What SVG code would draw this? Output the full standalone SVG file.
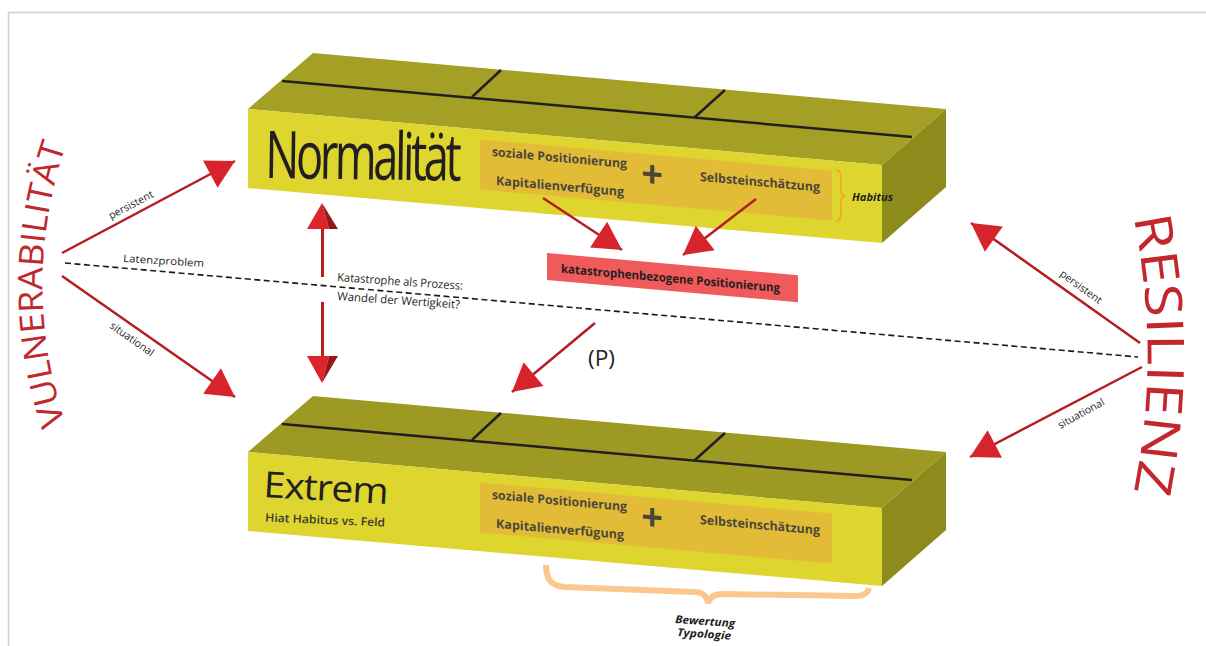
<svg xmlns="http://www.w3.org/2000/svg" width="1206" height="646" viewBox="0 0 1206 646">
<defs>
<style>
text{font-family:"Open Sans","Liberation Sans",sans-serif;}
.top1{fill:#a4a026}
.top2{fill:#9c9a22}
.front{fill:#ded52e}
.side{fill:#8d8b1c}
.seam{stroke:#231f20;stroke-width:2.5;fill:none}
.inner{fill:#e3bc37}
.it{font-size:12.5px;font-weight:700;fill:#4b473a}
.plus{font-size:38px;font-weight:700;fill:#4b473a}
.arr{stroke:#b51d23;stroke-width:2.5;fill:none;marker-end:url(#ah)}
.lbl{font-size:10.5px;fill:#231f20}
.note{font-size:11.5px;fill:#231f20}
.red{fill:#c1272d}
.bi{font-size:11px;font-weight:700;font-style:italic;fill:#231f20}
</style>
<marker id="ah" markerUnits="userSpaceOnUse" viewBox="-30 -17 32 34" markerWidth="32" markerHeight="34" refX="0" refY="0" orient="auto">
<path d="M-28,-15.5 L0,0 L-28,15.5 z" fill="#d7232b"/>
</marker>
<path id="vp" d="M67,428 Q18,285 67,142"/>
<path id="rp" d="M1133,214 Q1162,355 1133,496"/>
</defs>
<rect width="1206" height="646" fill="#ffffff"/>
<path d="M8.5,646 V12.5 H1206" stroke="#d0d0d0" stroke-width="1.5" fill="none"/>

<g id="node-normalitaet">
<polygon class="top1" points="313,53 946,109 882,165 248,109"/>
<polygon class="side" points="882,165 946,109 946,187 882,243"/>
<polygon class="front" points="248,109 882,165 882,243 248,188"/>
<path class="seam" d="M282,81 L912,137 M501,70 L472,97 M725,90 L695,117"/>
<text x="265" y="178" font-size="66" fill="#231f20" letter-spacing="-5" textLength="193" lengthAdjust="spacingAndGlyphs" transform="rotate(0.8 265 178)">Normalität</text>
<g transform="matrix(1 0.0883 0 1 248 109)">
<rect class="inner" x="232" y="10" width="352" height="50"/>
<text class="it" x="244" y="25.5" textLength="135" lengthAdjust="spacingAndGlyphs">soziale Positionierung</text>
<text class="it" x="248" y="54" textLength="128" lengthAdjust="spacingAndGlyphs">Kapitalienverfügung</text>
<text class="plus" x="404" y="43" text-anchor="middle">+</text>
<text class="it" x="452" y="32" textLength="120" lengthAdjust="spacingAndGlyphs">Selbsteinschätzung</text>
</g>
<path d="M836,170 Q841,170 841,178 L841,190 Q841,195 845,196 Q841,197 841,202 L841,213 Q841,221 836,221" stroke="#f7a12a" stroke-width="1.6" fill="none"/>
<text class="bi" x="852" y="200.5" textLength="41" lengthAdjust="spacingAndGlyphs">Habitus</text>
</g>

<g id="node-extrem">
<polygon class="top2" points="313,396 946,452 882,508 248,452"/>
<polygon class="side" points="882,508 946,452 946,530 882,586"/>
<polygon class="front" points="248,452 882,508 882,586 248,531"/>
<path class="seam" d="M282,424 L912,480 M501,413 L472,440 M725,433 L695,460"/>
<text x="263" y="497" font-size="36" fill="#231f20" letter-spacing="-1" textLength="124" lengthAdjust="spacingAndGlyphs" transform="rotate(3.2 263 497)">Extrem</text>
<text x="265" y="521.5" font-size="11.5" font-weight="600" fill="#3a3835" textLength="120" lengthAdjust="spacingAndGlyphs" transform="rotate(2.4 265 521.5)">Hiat Habitus vs. Feld</text>
<g transform="matrix(1 0.0883 0 1 248 452)">
<rect class="inner" x="232" y="10" width="352" height="50"/>
<text class="it" x="244" y="25.5" textLength="135" lengthAdjust="spacingAndGlyphs">soziale Positionierung</text>
<text class="it" x="248" y="54" textLength="128" lengthAdjust="spacingAndGlyphs">Kapitalienverfügung</text>
<text class="plus" x="404" y="43" text-anchor="middle">+</text>
<text class="it" x="452" y="32" textLength="120" lengthAdjust="spacingAndGlyphs">Selbsteinschätzung</text>
</g>
<path d="M546,565 C546,578 550,586 565,587 L695,592 C703,592 707,597 708,603 C710,597 714,594 722,594 L855,596 C864,596 868,593 869,588" stroke="#fbc78c" stroke-width="6" fill="none"/>
<text class="bi" x="675" y="623" textLength="60" lengthAdjust="spacingAndGlyphs" transform="rotate(4 675 623)">Bewertung</text>
<text class="bi" x="677" y="636" textLength="54" lengthAdjust="spacingAndGlyphs" transform="rotate(4 677 636)">Typologie</text>
</g>

<g id="node-katastrophe">
<g transform="matrix(1 0.0883 0 1 547 253)">
<rect x="0" y="0" width="251" height="27" fill="#f05a5b"/>
<text x="14" y="18.5" font-size="12" font-weight="700" fill="#231f20" textLength="219" lengthAdjust="spacingAndGlyphs">katastrophenbezogene Positionierung</text>
</g>
</g>

<g id="node-vulnerabilitaet">
<text class="red" font-size="34"><textPath href="#vp" startOffset="5" textLength="283" lengthAdjust="spacingAndGlyphs">VULNERABILITÄT</textPath></text>
</g>

<g id="node-resilienz">
<text class="red" font-size="51"><textPath href="#rp" startOffset="3" textLength="277" lengthAdjust="spacingAndGlyphs">RESILIENZ</textPath></text>
</g>

<g id="connectors">
<path d="M65,263 L1138,357" stroke="#1a1a1a" stroke-width="1.6" stroke-dasharray="6 3.5" fill="none"/>
<text class="lbl" x="123" y="262" textLength="81" lengthAdjust="spacingAndGlyphs" transform="rotate(3.5 123 262)">Latenzproblem</text>

<path class="arr" d="M62,253 L235,161"/>
<path class="arr" d="M62,276 L235,397"/>
<path class="arr" d="M1140,343 L971,223"/>
<path class="arr" d="M1142,367 L970,457"/>
<path class="arr" d="M543,198 L622,250"/>
<path class="arr" d="M756,199 L683,255"/>
<path class="arr" d="M595,323 L512,392"/>

<text class="lbl" text-anchor="middle" transform="translate(132.6 208.1) rotate(-28)">persistent</text>
<text class="lbl" text-anchor="middle" transform="translate(130 342) rotate(35)">situational</text>
<text class="lbl" text-anchor="middle" transform="translate(1079 289.8) rotate(36)">persistent</text>
<text class="lbl" text-anchor="middle" transform="translate(1082.7 416.6) rotate(-28.6)">situational</text>

<path d="M322.5,228 V277 M322.5,302 V357" stroke="#b51d23" stroke-width="3" fill="none"/>
<polygon points="322,203 307,229 329,229" fill="#dd232b"/>
<polygon points="322,203 329,229 338,229" fill="#921a16"/>
<polygon points="322,383 307,356 329,356" fill="#dd232b"/>
<polygon points="322,383 329,356 338,356" fill="#921a16"/>

<text class="note" x="337" y="281" textLength="126" lengthAdjust="spacingAndGlyphs" transform="rotate(4 337 281)">Katastrophe als Prozess:</text>
<text class="note" x="337" y="300" textLength="123" lengthAdjust="spacingAndGlyphs" transform="rotate(4 337 300)">Wandel der Wertigkeit?</text>
<text x="588" y="366" font-size="22" fill="#231f20" textLength="27" lengthAdjust="spacingAndGlyphs">(P)</text>
</g>
</svg>
